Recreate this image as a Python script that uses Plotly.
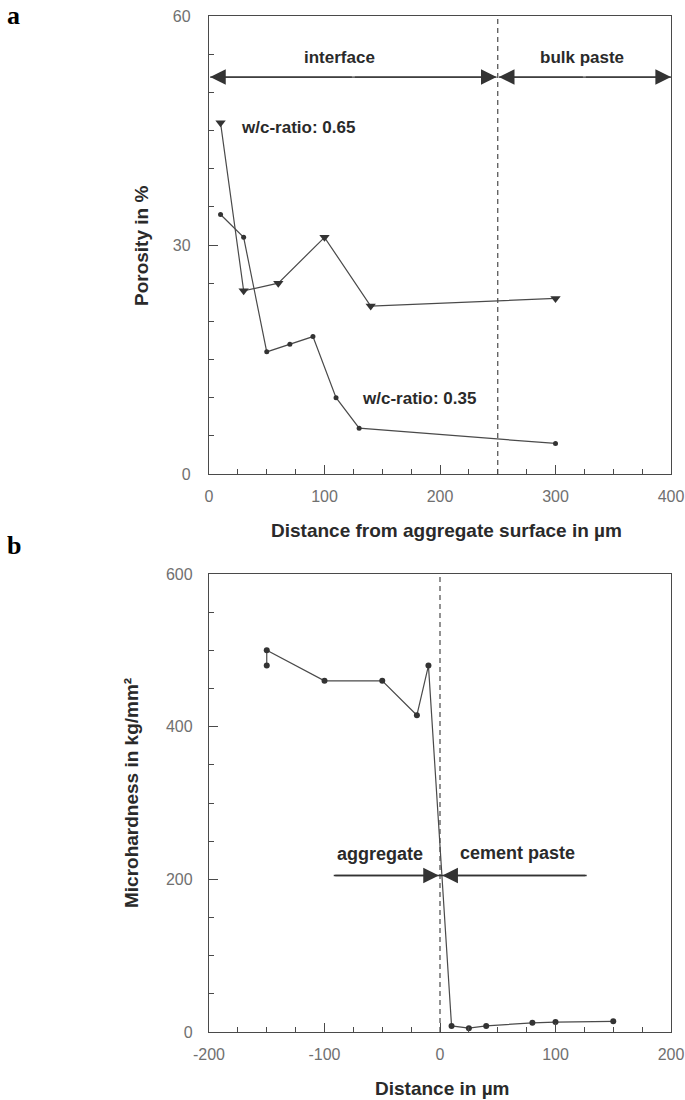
import plotly.graph_objects as go

# ---------------- data ----------------
# Panel a: porosity vs distance from aggregate surface
dist_065 = [10, 30, 60, 100, 140, 300]
poro_065 = [46, 24, 25, 31, 22, 23]
dist_035 = [10, 30, 50, 70, 90, 110, 130, 300]
poro_035 = [34, 31, 16, 17, 18, 10, 6, 4]
boundary_a = 250          # interface / bulk paste boundary (µm)
arrow_level_a = 52        # height of the region arrows (%)
xticks_a = [0, 100, 200, 300, 400]
xticklabels_a = ["0", "100", "200", "300", "400"]
yticks_a = [0, 30, 60]
yticklabels_a = ["0", "30", "60"]

# Panel b: microhardness vs distance
dist_b = [-150, -150, -100, -50, -20, -10, 10, 25, 40, 80, 100, 150]
hard_b = [480, 500, 460, 460, 415, 480, 8, 5, 8, 12, 13, 14]
boundary_b = 0
arrow_level_b = 205
aggregate_start = -92
paste_end = 127
xticks_b = [-200, -100, 0, 100, 200]
xticklabels_b = ["-200", "-100", "0", "100", "200"]
yticks_b = [0, 200, 400, 600]
yticklabels_b = ["0", "200", "400", "600"]

# ---------------- styling ----------------
W, H = 685, 1100
LINE = "#4a4a4a"
TXT = "#2a2a2a"
TICK = "#707070"
SANS = "Liberation Sans, Arial, sans-serif"


def px_x(p):
    return p / W


def px_y(p):
    return 1 - p / H


def minor_vals(lo, hi, step):
    n = int(round((hi - lo) / step))
    return [lo + i * step for i in range(n + 1)]


fig = go.Figure()

fig.add_trace(go.Scatter(x=dist_065, y=poro_065, mode="lines+markers",
                         line=dict(color=LINE, width=1.2),
                         marker=dict(symbol="triangle-down", size=9, color="#333"),
                         xaxis="x", yaxis="y", showlegend=False))
fig.add_trace(go.Scatter(x=dist_035, y=poro_035, mode="lines+markers",
                         line=dict(color=LINE, width=1.2),
                         marker=dict(symbol="circle", size=5, color="#333"),
                         xaxis="x", yaxis="y", showlegend=False))
fig.add_trace(go.Scatter(x=dist_b, y=hard_b, mode="lines+markers",
                         line=dict(color=LINE, width=1.2),
                         marker=dict(symbol="circle", size=6, color="#333"),
                         xaxis="x2", yaxis="y2", showlegend=False))

xdom = [px_x(209), px_x(671)]
axis_common = dict(showline=True, linecolor=LINE, linewidth=1.3, mirror=True,
                   showgrid=False, zeroline=False, ticks="inside", automargin=False,
                   tickcolor=LINE, tickwidth=1.2, ticklen=9, tickmode="array",
                   tickfont=dict(family=SANS, size=16, color=TICK))


def minor(lo, hi, step):
    return dict(tickmode="array", tickvals=minor_vals(lo, hi, step), ticks="inside",
                ticklen=5, tickcolor=LINE, tickwidth=1.1, showgrid=False)


fig.update_layout(
    width=W, height=H, margin=dict(l=0, r=0, t=0, b=0, autoexpand=False),
    paper_bgcolor="white", plot_bgcolor="white",
    xaxis=dict(domain=xdom, range=[0, 400], anchor="y", tickvals=xticks_a,
               ticktext=xticklabels_a, minor=minor(0, 400, 25),
               ticklabelstandoff=8, **axis_common),
    yaxis=dict(domain=[px_y(474), px_y(16)], range=[0, 60], anchor="x", tickvals=yticks_a,
               ticktext=yticklabels_a, minor=minor(0, 60, 5),
               ticklabelstandoff=14, **axis_common),
    xaxis2=dict(domain=xdom, range=[-200, 200], anchor="y2", tickvals=xticks_b,
                ticktext=xticklabels_b, minor=minor(-200, 200, 25),
                ticklabelstandoff=8, **axis_common),
    yaxis2=dict(domain=[px_y(1032), px_y(574)], range=[0, 600], anchor="x2", tickvals=yticks_b,
                ticktext=yticklabels_b, minor=minor(0, 600, 50),
                ticklabelstandoff=12, **axis_common),
)

# dashed boundary lines
fig.add_shape(type="line", xref="x", yref="y", x0=boundary_a, x1=boundary_a, y0=0, y1=60,
              line=dict(color=LINE, width=1.2, dash="5px,4px"))
fig.add_shape(type="line", xref="x2", yref="y2", x0=boundary_b, x1=boundary_b, y0=0, y1=600,
              line=dict(color=LINE, width=1.2, dash="5px,4px"))


# region arrows: shaft as a line shape, heads as annotation arrows
def shaft(xr, yr, x0, x1, y):
    fig.add_shape(type="line", xref=xr, yref=yr, x0=x0, x1=x1, y0=y, y1=y,
                  line=dict(color="#333", width=1.3))


def head(xr, yr, head_x, tail_x, y):
    fig.add_annotation(xref=xr, yref=yr, axref=xr, ayref=yr, x=head_x, y=y, ax=tail_x, ay=y,
                       text="", showarrow=True, arrowhead=2, arrowsize=2.4, arrowwidth=1.3,
                       arrowcolor="#333", standoff=0, startstandoff=0)


mid_int = boundary_a / 2
mid_bulk = (boundary_a + 400) / 2
shaft("x", "y", 1, boundary_a - 1, arrow_level_a)
shaft("x", "y", boundary_a + 1, 400, arrow_level_a)
head("x", "y", 1, mid_int, arrow_level_a)
head("x", "y", boundary_a - 1, mid_int, arrow_level_a)
head("x", "y", boundary_a + 1, mid_bulk, arrow_level_a)
head("x", "y", 400, mid_bulk, arrow_level_a)

shaft("x2", "y2", aggregate_start, boundary_b, arrow_level_b)
shaft("x2", "y2", boundary_b, paste_end, arrow_level_b)
head("x2", "y2", boundary_b - 1, aggregate_start, arrow_level_b)
head("x2", "y2", boundary_b + 2, paste_end, arrow_level_b)


# text labels inside plots
def label(xr, yr, x, y, text, size):
    fig.add_annotation(xref=xr, yref=yr, x=x, y=y, text=text, showarrow=False,
                       font=dict(family=SANS, size=size, color=TXT, weight="bold"))


label("x", "y", 113, 54.6, "interface", 17)
label("x", "y", 323, 54.6, "bulk paste", 17)
label("x", "y", 77, 45.4, "w/c-ratio: 0.65", 17)
label("x", "y", 182, 9.9, "w/c-ratio: 0.35", 17)
label("x2", "y2", -52, 233, "aggregate", 18)
label("x2", "y2", 67, 235, "cement paste", 18)


# axis titles (paper coords)
def title(x, y, text, angle=0):
    fig.add_annotation(xref="paper", yref="paper", x=px_x(x), y=px_y(y), text=text,
                       showarrow=False, textangle=angle, xanchor="center", yanchor="middle",
                       font=dict(family=SANS, size=19, color=TXT, weight="bold"))


title(446, 531, "Distance from aggregate surface in µm")
title(141, 246, "Porosity in %", -90)
title(442, 1088, "Distance in µm")
title(131, 793, "Microhardness in kg/mm²", -90)

# panel letters
for letter, yy in (("a", 16), ("b", 545)):
    fig.add_annotation(xref="paper", yref="paper", x=px_x(5), y=px_y(yy), text=letter,
                       showarrow=False, xanchor="left", yanchor="middle",
                       font=dict(family="Liberation Serif, Times New Roman, serif", size=26,
                                 color="black", weight="bold"))

fig.write_html("out.html")
